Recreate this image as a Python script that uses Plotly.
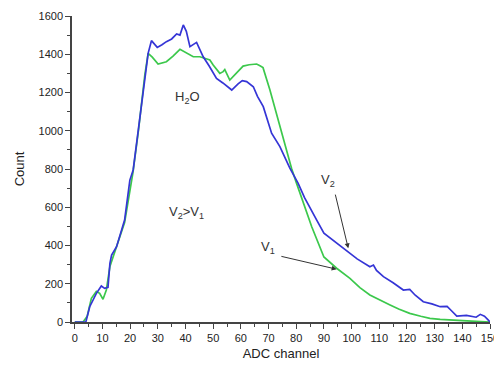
import plotly.graph_objects as go

# V2 (blue) spectrum
ch_v2 = [0, 4, 5.4, 7.8, 9.6, 10.8, 12, 12.7, 13.3, 15.1, 18, 19.9, 21.1, 23, 25.3, 26.5,
         27.7, 29.8, 31.5, 33.1, 35, 36.8, 38, 39.2, 40.3, 41.6, 44, 46.4, 48.5, 51.2,
         53.5, 56.7, 59, 60.5, 62.1, 64.5, 66, 68.1, 71.1, 74.1, 77.7, 80.7, 83, 86.2,
         87.5, 90, 94, 98.2, 102, 106.6, 107.9, 109, 111.5, 115, 118.7, 121, 123, 125.9,
         129, 132, 134.5, 136, 138, 141.5, 143.5, 145, 146.5, 148, 149.4, 150]
count_v2 = [0, 0, 80, 150, 188, 176, 181, 307, 350, 394, 533, 742, 795, 1020, 1291, 1405,
            1471, 1436, 1450, 1466, 1480, 1506, 1500, 1553, 1520, 1440, 1462, 1387, 1340, 1274,
            1250, 1213, 1245, 1262, 1257, 1230, 1180, 1126, 987, 917, 804, 725, 650, 570,
            530, 465, 420, 376, 330, 289, 298, 270, 237, 205, 167, 170, 140, 106,
            95, 80, 82, 60, 31, 35, 28, 25, 40, 30, 10, 0]

# V1 (green) spectrum
ch_v1 = [0, 3, 4.5, 6, 7.8, 9, 10.2, 11.4, 12.7, 15, 18, 21, 23, 25.3, 26.5, 28, 30.1, 33.1,
         35.5, 38, 39.7, 41, 42.8, 45.2, 48.8, 50, 52.4, 53.6, 54.2, 56, 58, 60.8, 63, 65.7,
         66.9, 68, 70.5, 74.1, 78.3, 80, 85.6, 90, 94.6, 99.4, 103, 106.6, 110, 113.9, 117,
         121, 125, 128.3, 132, 135.5, 140, 145, 150]
count_v1 = [0, 0, 30, 124, 160, 150, 119, 167, 290, 390, 520, 780, 1000, 1291, 1405, 1385,
            1349, 1361, 1390, 1426, 1413, 1400, 1387, 1387, 1370, 1344, 1300, 1309, 1320, 1265,
            1295, 1338, 1345, 1349, 1340, 1330, 1213, 1021, 804, 730, 498, 340, 281, 228, 180,
            141, 115, 89, 68, 45, 30, 19, 14, 10, 6, 3, 0]

x_ticks = list(range(0, 151, 10))
y_ticks = list(range(0, 1601, 200))

FONT = "Liberation Sans, Arial, sans-serif"
AX = "#444444"

fig = go.Figure()
fig.add_trace(go.Scatter(x=ch_v1, y=count_v1, mode="lines",
                         line=dict(color="#3cc84c", width=1.7), showlegend=False))
fig.add_trace(go.Scatter(x=ch_v2, y=count_v2, mode="lines",
                         line=dict(color="#3535d6", width=1.7), showlegend=False))

ann_font = dict(family=FONT, size=13, color="#333333")
fig.add_annotation(x=40.9, y=1176, text="H<sub>2</sub>O", showarrow=False, font=ann_font)
fig.add_annotation(x=40.5, y=570, text="V<sub>2</sub>>V<sub>1</sub>", showarrow=False, font=ann_font)
fig.add_annotation(x=91.5, y=742, text="V<sub>2</sub>", showarrow=False, font=ann_font)
fig.add_annotation(x=69.8, y=392, text="V<sub>1</sub>", showarrow=False, font=ann_font)
# arrows
fig.add_annotation(x=98.8, y=385, ax=94, ay=674, axref="x", ayref="y", xref="x", yref="y",
                   text="", showarrow=True, arrowhead=2, arrowsize=1, arrowwidth=1,
                   arrowcolor="#333333")
fig.add_annotation(x=94.6, y=276, ax=74.1, ay=345, axref="x", ayref="y", xref="x", yref="y",
                   text="", showarrow=True, arrowhead=2, arrowsize=1, arrowwidth=1,
                   arrowcolor="#333333")

fig.update_xaxes(range=[-1, 150], tickvals=x_ticks, ticktext=[str(v) for v in x_ticks],
                 automargin=False, ticklabeloverflow="allow",
                 showgrid=False, zeroline=False, showline=True, linecolor=AX, linewidth=1.5,
                 ticks="outside", ticklen=5, tickwidth=1.2, tickcolor=AX,
                 minor=dict(dtick=5, tick0=0, ticks="outside", ticklen=3, tickcolor=AX, tickwidth=1),
                 tickfont=dict(family=FONT, size=11, color="#222222"),
                 title=dict(text="ADC channel", font=dict(family=FONT, size=13, color="#222222"),
                            standoff=14))
fig.update_yaxes(range=[0, 1600], tickvals=y_ticks, ticktext=[str(v) for v in y_ticks],
                 automargin=False,
                 showgrid=False, zeroline=False, showline=True, linecolor=AX, linewidth=1.5,
                 ticks="outside", ticklen=5, tickwidth=1.2, tickcolor=AX,
                 minor=dict(dtick=100, tick0=0, ticks="outside", ticklen=3, tickcolor=AX, tickwidth=1),
                 tickfont=dict(family=FONT, size=11, color="#222222"),
                 title=dict(text="Count", font=dict(family=FONT, size=13, color="#222222"),
                            standoff=11))

# page has an 8px body margin; keep the page from overflowing vertically
fig.update_layout(width=494, height=353, margin=dict(l=64, r=12, t=8, b=39),
                  plot_bgcolor="white", paper_bgcolor="white")

fig.write_html("out.html")
